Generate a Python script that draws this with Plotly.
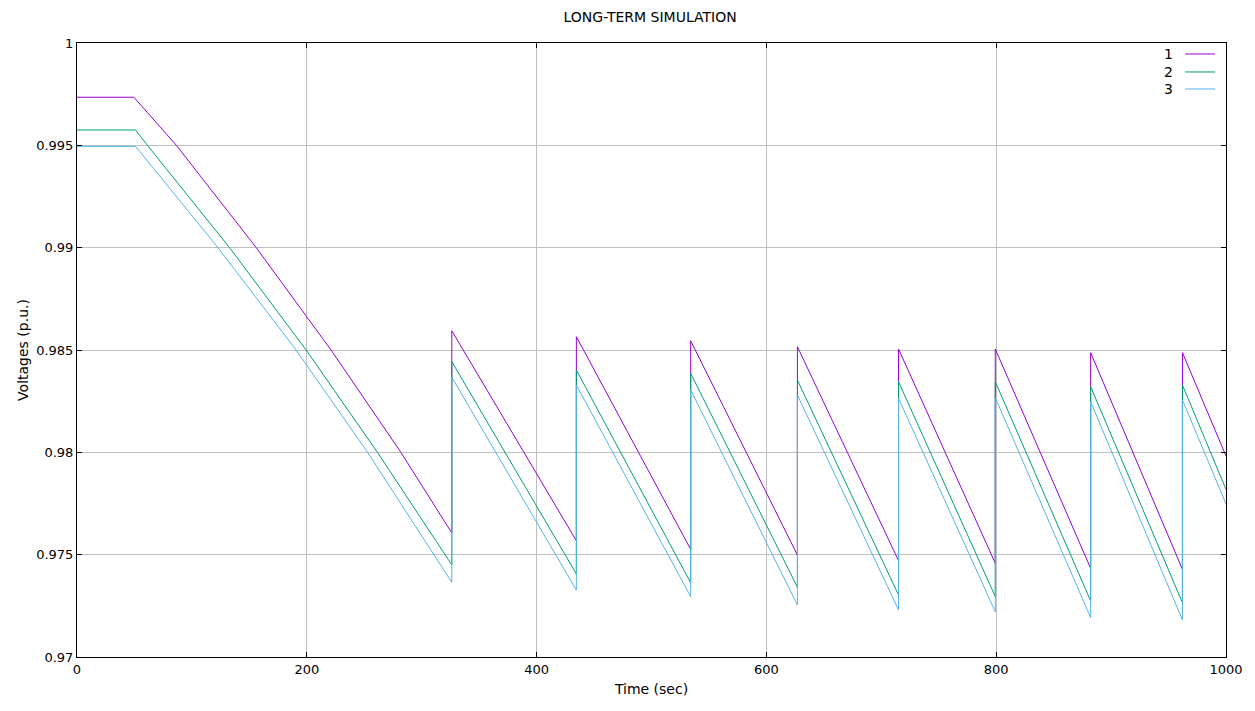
import plotly.graph_objects as go

# ---- data ----
names = ["1", "2", "3"]
colors = ["#9400D3", "#009E73", "#56B4E9"]

t1 = [0, 49.5, 86.5, 156.0, 221.1, 281.9, 326.2, 326.2, 434.6, 434.6, 534.1, 534.1,
      627.0, 627.0, 715.0, 715.0, 799.2, 799.2, 882.2, 882.2, 962.1, 962.1, 1000]
v1 = [0.99735, 0.99735, 0.995, 0.990, 0.985, 0.980, 0.97606, 0.98594, 0.97568, 0.98565,
      0.97526, 0.98545, 0.97498, 0.98516, 0.97471, 0.98505, 0.97458, 0.98505, 0.97433,
      0.98487, 0.97428, 0.98487, 0.97982]

t2 = [0, 51.0, 61.3, 132.8, 199.4, 261.5, 326.2, 326.2, 434.6, 434.6, 534.1, 534.1,
      627.0, 627.0, 715.0, 715.0, 799.2, 799.2, 882.2, 882.2, 962.1, 962.1, 1000]
v2 = [0.99575, 0.99575, 0.995, 0.990, 0.985, 0.980, 0.97450, 0.98443, 0.97406, 0.98402,
      0.97363, 0.98386, 0.97341, 0.98353, 0.97303, 0.98345, 0.97295, 0.98345, 0.97274,
      0.98321, 0.97265, 0.98329, 0.97819]

t3 = [0, 51.0, 122.7, 190.7, 252.9, 326.2, 326.2, 434.6, 434.6, 534.1, 534.1,
      627.0, 627.0, 715.0, 715.0, 799.2, 799.2, 882.2, 882.2, 962.1, 962.1, 1000]
v3 = [0.99495, 0.99495, 0.990, 0.985, 0.980, 0.97365, 0.98367, 0.97327, 0.98329,
      0.97295, 0.98305, 0.97254, 0.98280, 0.97230, 0.98264, 0.97221, 0.98267, 0.97192,
      0.98247, 0.97181, 0.98256, 0.97748]

x_ticks = [0, 200, 400, 600, 800, 1000]
y_ticks = [0.97, 0.975, 0.98, 0.985, 0.99, 0.995, 1]
y_tick_text = ["0.97", "0.975", "0.98", "0.985", "0.99", "0.995", "1"]

series = [(t1, v1), (t2, v2), (t3, v3)]

FONT = "DejaVu Sans"

fig = go.Figure()
for (t, v), n, c in zip(series, names, colors):
    fig.add_trace(go.Scatter(x=t, y=v, mode="lines", name=n,
                             line=dict(color=c, width=1), showlegend=False))

# gnuplot-style legend: label on the left, line sample on the right
leg_rows = [0.9821, 0.9528, 0.9251]
for n, c, yy in zip(names, colors, leg_rows):
    fig.add_annotation(x=0.9557, y=yy, xref="paper", yref="paper", text=n,
                       showarrow=False, xanchor="right", yanchor="middle",
                       font=dict(family=FONT, size=14, color="black"))
    fig.add_shape(type="line", xref="paper", yref="paper", x0=0.9644, x1=0.9905,
                  y0=yy, y1=yy, line=dict(color=c, width=1))

axis_common = dict(
    showline=True, linecolor="black", linewidth=1, mirror="ticks",
    ticks="inside", ticklen=5, tickcolor="black",
    showgrid=True, gridcolor="#c0c0c0", gridwidth=1.2,
    zeroline=False,
    tickfont=dict(family=FONT, size=13, color="black"),
)

fig.update_layout(
    width=1255, height=711,
    margin=dict(l=77, r=22, t=43, b=54),
    plot_bgcolor="white", paper_bgcolor="white",
    title=dict(text="LONG-TERM SIMULATION", x=0.518, xanchor="center",
               y=0.976, yanchor="middle",
               font=dict(family=FONT, size=14, color="black")),
    xaxis=dict(range=[0, 1000], tickvals=x_ticks,
               title=dict(text="Time (sec)", standoff=8,
                          font=dict(family=FONT, size=14, color="black")),
               **axis_common),
    yaxis=dict(range=[0.97, 1], tickvals=y_ticks, ticktext=y_tick_text,
               title=dict(text="Voltages (p.u.)", standoff=4,
                          font=dict(family=FONT, size=14, color="black")),
               **axis_common),
)

fig.write_html("out.html")
